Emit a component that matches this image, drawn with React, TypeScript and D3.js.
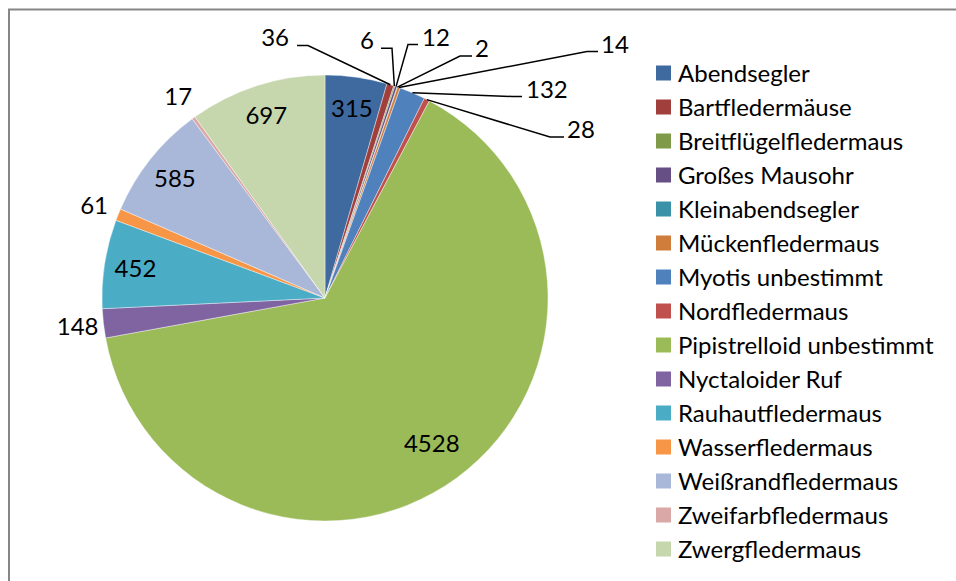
import { useEffect, useRef } from 'react';
import * as d3 from 'd3';

const species = [
  'Abendsegler',
  'Bartfledermäuse',
  'Breitflügelfledermaus',
  'Großes Mausohr',
  'Kleinabendsegler',
  'Mückenfledermaus',
  'Myotis unbestimmt',
  'Nordfledermaus',
  'Pipistrelloid unbestimmt',
  'Nyctaloider Ruf',
  'Rauhautfledermaus',
  'Wasserfledermaus',
  'Weißrandfledermaus',
  'Zweifarbfledermaus',
  'Zwergfledermaus',
];

const counts = [315, 36, 6, 12, 2, 14, 132, 28, 4528, 148, 452, 61, 585, 17, 697];

const colors = [
  '#3E6AA0', '#A03F3C', '#7F9A48', '#664F85', '#3B91A8', '#D07D3C',
  '#4F81BD', '#C0504D', '#9BBB59', '#8064A2', '#4BACC6', '#F79646',
  '#A9B8D9', '#D9A8A7', '#C6D7AE',
];

// labels that sit inside their slice
const insideLabels = ['Abendsegler', 'Pipistrelloid unbestimmt', 'Rauhautfledermaus', 'Weißrandfledermaus', 'Zwergfledermaus'];

// thin slices at the top get a leader line: text spot + knee of the line
const callouts = [
  { name: 'Bartfledermäuse', tx: 289, ty: 46, anchor: 'end', kx: 308, hx: 297, ly: 45.5 },
  { name: 'Breitflügelfledermaus', tx: 374, ty: 49, anchor: 'end', kx: 392, hx: 381, ly: 48.3 },
  { name: 'Großes Mausohr', tx: 422, ty: 46, anchor: 'start', kx: 408, hx: 418, ly: 44.5 },
  { name: 'Kleinabendsegler', tx: 475, ty: 57, anchor: 'start', kx: 460, hx: 472, ly: 56 },
  { name: 'Mückenfledermaus', tx: 601, ty: 53, anchor: 'start', kx: 587, hx: 598, ly: 51.5 },
  { name: 'Myotis unbestimmt', tx: 526, ty: 98, anchor: 'start', kx: 512, hx: 522, ly: 96.5 },
  { name: 'Nordfledermaus', tx: 567, ty: 138, anchor: 'start', kx: 550, hx: 564, ly: 137 },
];

const W = 956;
const H = 581;

export default function App() {
  const svgRef = useRef<SVGSVGElement>(null);

  useEffect(() => {
    if (!svgRef.current) return;
    const svg = d3.select(svgRef.current);
    svg.selectAll('*').remove();

    const cx = 325;
    const cy = 298;
    const r = 223;
    const font = 'Lato, "Open Sans", sans-serif';
    const fontSize = '24px';

    // chart area border (runs off right and bottom)
    svg.append('rect')
      .attr('x', 9)
      .attr('y', 9.5)
      .attr('width', W + 20)
      .attr('height', H + 20)
      .attr('fill', 'none')
      .attr('stroke', '#868686')
      .attr('stroke-width', 2);

    const data = species.map((name, i) => ({ name, value: counts[i], color: colors[i] }));

    const pie = d3.pie<typeof data[number]>()
      .sort(null)
      .value(d => d.value)
      .startAngle(0)
      .endAngle(2 * Math.PI);
    const arcs = pie(data);

    const arc = d3.arc<d3.PieArcDatum<typeof data[number]>>()
      .innerRadius(0)
      .outerRadius(r);

    const g = svg.append('g').attr('transform', `translate(${cx},${cy})`);

    g.selectAll('path.slice')
      .data(arcs)
      .join('path')
      .attr('class', 'slice')
      .attr('d', arc)
      .attr('fill', d => d.data.color)
      .attr('stroke', '#fff')
      .attr('stroke-width', 0.4);

    const polar = (a: number, rad: number): [number, number] => [
      Math.sin(a) * rad,
      -Math.cos(a) * rad,
    ];
    const mid = (d: d3.PieArcDatum<unknown>) => (d.startAngle + d.endAngle) / 2;

    // inside labels
    arcs.filter(d => insideLabels.includes(d.data.name)).forEach(d => {
      const big = d.endAngle - d.startAngle > Math.PI;
      const [x, y] = polar(mid(d), big ? r * 0.81 : r * 0.86);
      g.append('text')
        .attr('x', x)
        .attr('y', y)
        .attr('dy', '0.36em')
        .attr('text-anchor', 'middle')
        .style('font-family', font)
        .style('font-size', fontSize)
        .style('fill', '#000')
        .text(d.data.value);
    });

    // outside labels without leader lines
    const calloutNames = callouts.map(c => c.name);
    arcs.filter(d => !insideLabels.includes(d.data.name) && !calloutNames.includes(d.data.name))
      .forEach(d => {
        const [x, y] = polar(mid(d), r + 26);
        g.append('text')
          .attr('x', x)
          .attr('y', y)
          .attr('dy', '0.36em')
          .attr('text-anchor', 'middle')
          .style('font-family', font)
          .style('font-size', fontSize)
          .style('fill', '#000')
          .text(d.data.value);
      });

    // leader line labels
    callouts.forEach(c => {
      const d = arcs.find(a => a.data.name === c.name);
      if (!d) return;
      const [ex, ey] = polar(mid(d), r);
      const line = d3.line();
      svg.append('path')
        .attr('d', line([[cx + ex, cy + ey], [c.kx, c.ly], [c.hx, c.ly]]))
        .attr('fill', 'none')
        .attr('stroke', '#000')
        .attr('stroke-width', 1.5);
      svg.append('text')
        .attr('x', c.tx)
        .attr('y', c.ty)
        .attr('text-anchor', c.anchor)
        .style('font-family', font)
        .style('font-size', fontSize)
        .style('fill', '#000')
        .text(d.data.value);
    });

    // legend
    const legend = svg.append('g').attr('transform', 'translate(656,73)');
    const rowY = d3.scalePoint<string>().domain(species).range([0, 34 * (species.length - 1)]);
    const rows = legend.selectAll('g.row')
      .data(data)
      .join('g')
      .attr('class', 'row')
      .attr('transform', d => `translate(0,${rowY(d.name)})`);
    rows.append('rect')
      .attr('x', 0)
      .attr('y', -7.5)
      .attr('width', 15)
      .attr('height', 15)
      .attr('fill', d => d.color);
    rows.append('text')
      .attr('x', 22)
      .attr('y', 8.5)
      .style('font-family', font)
      .style('font-size', fontSize)
      .style('fill', '#000')
      .text(d => d.name);
  }, []);

  return (
    <svg
      ref={svgRef}
      width={W}
      height={H}
      viewBox={`0 0 ${W} ${H}`}
      style={{ position: 'absolute', left: 0, top: 0, background: '#fff', display: 'block' }}
    />
  );
}
